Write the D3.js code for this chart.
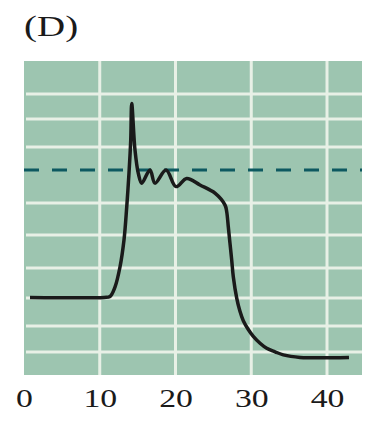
<!DOCTYPE html>
<html>
<head>
<meta charset="utf-8">
<script src="https://cdn.jsdelivr.net/npm/d3@7"></script>
<style>
  html, body { margin: 0; padding: 0; background: #ffffff; }
  svg { display: block; }
</style>
</head>
<body>
<svg id="chart" width="376" height="425"></svg>
<script>
// ---- data ----
const panelLabel = "(D)";
const xTicks = [0, 10, 20, 30, 40];
const xGrid = [10, 20, 30, 40];
const yGrid = [89.5, 81.5, 72.6, 54.8, 44.6, 34.1, 24.5, 15.6, 7.3];
const thresholdLevel = 65.3;
const timeValues = [0.79, 10.56, 11.35, 12.01, 12.67, 13.20, 13.56, 13.86, 14.09, 14.22,
  14.65, 15.09, 15.54, 16.63, 17.29, 18.75, 20.07, 21.48, 23.23, 25.21, 26.54, 26.76,
  26.97, 27.19, 27.42, 27.63, 28.08, 28.51, 28.95, 29.61, 30.27, 31.16, 32.04, 33.14,
  34.23, 36.44, 42.90];
const signalValues = [24.7, 24.7, 25.0, 28.0, 34.4, 43.0, 53.5, 64.3, 74.8, 86.5,
  71.7, 64.2, 61.1, 65.3, 61.1, 65.3, 60.0, 62.6, 60.5, 57.9, 54.1, 52.0,
  47.2, 42.0, 36.6, 31.3, 24.5, 20.3, 17.3, 14.5, 12.3, 10.1, 8.5, 7.4,
  6.4, 5.6, 5.6];

// ---- layout ----
const plot = { left: 24, right: 362, top: 61, bottom: 375 };
const svg = d3.select("#chart");

const x = d3.scaleLinear().domain([0, 44.62]).range([plot.left, plot.right]);
const y = d3.scaleLinear().domain([0, 100]).range([plot.bottom, plot.top]);

// background
svg.append("rect")
  .attr("x", plot.left).attr("y", plot.top)
  .attr("width", plot.right - plot.left).attr("height", plot.bottom - plot.top)
  .attr("fill", "#9dc5b0");

// gridlines
svg.append("g").selectAll("line").data(yGrid).join("line")
  .attr("x1", plot.left + 2).attr("x2", plot.right)
  .attr("y1", d => y(d)).attr("y2", d => y(d))
  .attr("stroke", "#e8f0e6").attr("stroke-width", 3);

svg.append("g").selectAll("line").data(xGrid).join("line")
  .attr("x1", d => x(d)).attr("x2", d => x(d))
  .attr("y1", plot.top).attr("y2", plot.bottom)
  .attr("stroke", "#e8f0e6").attr("stroke-width", 3);

// threshold dashed line
svg.append("line")
  .attr("x1", plot.left).attr("x2", plot.right)
  .attr("y1", y(thresholdLevel)).attr("y2", y(thresholdLevel))
  .attr("stroke", "#0d5960").attr("stroke-width", 3)
  .attr("stroke-dasharray", "15 13");

// signal curve
const pts = timeValues.map((t, i) => [t, signalValues[i]]);
svg.append("path")
  .datum(pts)
  .attr("d", d3.line().x(d => x(d[0])).y(d => y(d[1])).curve(d3.curveCatmullRom.alpha(0.5)))
  .attr("fill", "none")
  .attr("stroke", "#1a1a1a")
  .attr("stroke-width", 3.5)
  .attr("stroke-linejoin", "round")
  .attr("stroke-linecap", "butt");

// x axis labels
const xAxis = d3.axisBottom(x).tickValues(xTicks).tickSize(0).tickPadding(0).tickFormat(d3.format("d"));
const gx = svg.append("g").attr("transform", `translate(0, 407)`).call(xAxis);
gx.select(".domain").remove();
gx.selectAll("text")
  .attr("y", 0)
  .attr("dy", 0)
  .attr("transform", "scale(1.35,1)")
  .attr("font-family", "'Liberation Serif', 'DejaVu Serif', serif")
  .attr("font-size", 25)
  .attr("fill", "#1a1a1a");

// panel label
svg.append("text")
  .attr("transform", "translate(24,36) scale(1.3,1)")
  .attr("font-family", "'Liberation Serif', 'DejaVu Serif', serif")
  .attr("font-size", 30)
  .attr("fill", "#1a1a1a")
  .text(panelLabel);
</script>
</body>
</html>
